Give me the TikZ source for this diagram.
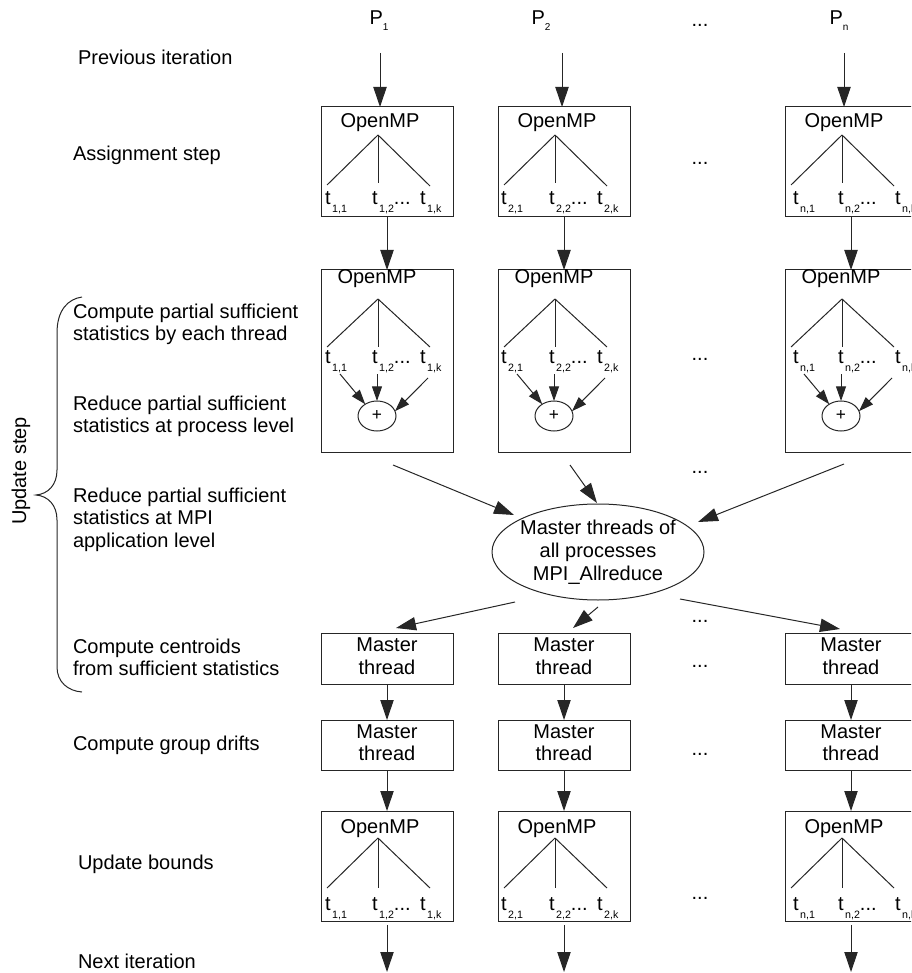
\documentclass[tikz,border=0pt]{standalone}
\usepackage{fontspec}
\setmainfont{Liberation Sans}
\usetikzlibrary{arrows.meta,shapes.geometric}
\newcommand{\lsub}[1]{\kern1.2pt\raisebox{-6pt}{\fontsize{8}{9}\selectfont #1}}
\newcommand{\psub}[1]{\raisebox{-4.5pt}{\fontsize{7.5}{9}\selectfont #1}}
\newcommand{\ml}[1]{\begin{tabular}[t]{@{}l@{}}#1\end{tabular}}
\newcommand{\mc}[1]{\begin{tabular}{@{}c@{}}#1\end{tabular}}
\tikzset{
  every node/.style={inner sep=0pt, outer sep=0pt, font=\fontsize{15}{17}\selectfont, text=black},
  ln/.style={line width=0.75pt, draw=black!85},
  arr/.style={ln, -{Triangle[length=15pt,width=10pt]}},
  sarr/.style={ln, -{Triangle[length=11pt,width=7.5pt]}},
  procbox/.style={draw=black!85, line width=0.75pt, minimum width=99pt},
  lbl/.style={anchor=base west},
  dotlbl/.style={anchor=base}
}
\begin{document}
\begin{tikzpicture}[x=0.75pt,y=-0.75pt]
\useasboundingbox (0,0) rectangle (911,973);
\clip (0,0) rectangle (911,973);

% left labels
\node[lbl] (lprev) at (78,65) {Previous iteration};
\node[lbl] (lassign) at (73,161) {Assignment step};
\node[lbl] (lcomp) at (73,318) {\ml{Compute partial sufficient\\statistics by each thread}};
\node[lbl] (lred) at (73,410) {\ml{Reduce partial sufficient\\statistics at process level}};
\node[lbl] (lmpi) at (73,502) {\ml{Reduce partial sufficient\\statistics at MPI\\application level}};
\node[lbl] (lcent) at (73,653) {\ml{Compute centroids\\from sufficient statistics}};
\node[lbl] (ldrift) at (73,750) {Compute group drifts};
\node[lbl] (lbounds) at (78,869) {Update bounds};
\node[lbl] (lnext) at (78,968) {Next iteration};

% brace and Update step
\draw[ln] (82,297) .. controls (68,299) and (57,310) .. (57,333) -- (57,470)
  .. controls (57,485) and (48,494) .. (36,495)
  .. controls (48,496) and (57,505) .. (57,520) -- (57,667)
  .. controls (57,682) and (68,691) .. (82,692);
\node[rotate=90] (upd) at (21,471) {Update step};

% dots
\node[dotlbl] (d0) at (700,27) {...};
\node[dotlbl] (d1) at (700,165) {...};
\node[dotlbl] (d2) at (700,360) {...};
\node[dotlbl] (d3) at (700,473) {...};
\node[dotlbl] (d4) at (700,622) {...};
\node[dotlbl] (d5) at (700,667) {...};
\node[dotlbl] (d6) at (700,755) {...};
\node[dotlbl] (d7) at (700,899) {...};

% MPI ellipse
\node[draw=black!85, line width=0.75pt, ellipse, minimum width=159pt, minimum height=72pt] (mpi) at (598,552) {};
\node (mpitext) at (598,553) {\mc{Master threads of\\all processes\\MPI\_Allreduce}};

\foreach \dx/\i/\px/\ax/\ta/\tb/\tk in {0/1/379/380/325/372/420, 177/2/541/562/501/549/597, 464/n/839/844/793/838/895} {
  % process label
  \node[anchor=base] (p\i) at (\px,25) {P\psub{\i}};
  % boxes
  \node[procbox, minimum height=82.5pt] (ra\i) at ({\dx+387},162) {};
  \node[procbox, minimum height=136.5pt] (rb\i) at ({\dx+387},361) {};
  \node[procbox, minimum height=38.25pt] (ma\i) at ({\dx+387},658.5) {\mc{Master\\thread}};
  \node[procbox, minimum height=37.5pt] (mb\i) at ({\dx+387},745) {\mc{Master\\thread}};
  \node[procbox, minimum height=82.5pt] (rc\i) at ({\dx+387},866) {};
  % top arrow
  \coordinate (pa\i) at (\ax,53);
  \draw[arr] (pa\i) -- (pa\i |- ra\i.north);
  % vertical arrows
  \draw[arr] (ra\i.south) -- (rb\i.north);
  \draw[arr] (ma\i.south) -- (mb\i.north);
  \draw[arr] (mb\i.south) -- (rc\i.north);
  \coordinate (ex\i) at ({\dx+387},972);
  \draw[arr] ([yshift=-3pt]rc\i.south) -- (ex\i);

  % row A: OpenMP tree
  \node[anchor=base] (oa\i) at ({\dx+380},128) {OpenMP};
  \coordinate (ba\i) at ({\dx+378},135);
  \draw[ln] (ba\i) -- ++(-51,50);
  \draw[ln] (ba\i) -- ++(0,48);
  \draw[ln] (ba\i) -- ++(52,51);
  \node[lbl] (ta1\i) at (\ta,205) {t\lsub{\i,1}};
  \node[lbl] (ta2\i) at (\tb,205) {t\lsub{\i,2}...};
  \node[lbl] (ta3\i) at (\tk,205) {t\lsub{\i,k}};

  % row B: OpenMP tree with reduction
  \node[anchor=base] (ob\i) at ({\dx+377},284) {OpenMP};
  \coordinate (bb\i) at ({\dx+378},299);
  \draw[ln] (bb\i) -- ++(-51,48);
  \draw[ln] (bb\i) -- ++(0,48);
  \draw[ln] (bb\i) -- ++(52,48);
  \node[lbl] (tb1\i) at (\ta,363) {t\lsub{\i,1}};
  \node[lbl] (tb2\i) at (\tb,363) {t\lsub{\i,2}...};
  \node[lbl] (tb3\i) at (\tk,363) {t\lsub{\i,k}};
  \node[draw=black!85, line width=0.75pt, ellipse, minimum width=28.5pt, minimum height=22.5pt] (plus\i) at ({\dx+377},416) {};
  \node[font=\fontsize{13}{15}\selectfont] (plustxt\i) at ({\dx+377},415) {+};
  \coordinate (s1\i) at ({\dx+340},374);
  \coordinate (s2\i) at ({\dx+377},374);
  \coordinate (s3\i) at ({\dx+428},378);
  \draw[sarr] (s1\i) -- (plus\i.135);
  \draw[sarr] (s2\i) -- (plus\i.north);
  \draw[sarr] (s3\i) -- (plus\i.15);

  % row C: OpenMP tree
  \node[anchor=base] (oc\i) at ({\dx+380},833) {OpenMP};
  \coordinate (bc\i) at ({\dx+378},838);
  \draw[ln] (bc\i) -- ++(-51,50);
  \draw[ln] (bc\i) -- ++(0,50);
  \draw[ln] (bc\i) -- ++(52,50);
  \node[lbl] (tc1\i) at (\ta,910) {t\lsub{\i,1}};
  \node[lbl] (tc2\i) at (\tb,910) {t\lsub{\i,2}...};
  \node[lbl] (tc3\i) at (\tk,910) {t\lsub{\i,k}};
}

% arrows into the MPI ellipse
\coordinate (in1s) at (393,465); \coordinate (in1e) at (514,515);
\coordinate (in2s) at (570,465); \coordinate (in2e) at (597,503);
\coordinate (in3s) at (844,464); \coordinate (in3e) at (698,522);
\draw[arr] (in1s) -- (in1e);
\draw[arr] (in2s) -- (in2e);
\draw[arr] (in3s) -- (in3e);
% arrows out of the MPI ellipse
\coordinate (out1s) at (515,602); \coordinate (out1e) at (396,628);
\coordinate (out2s) at (598,607); \coordinate (out2e) at (573,628);
\coordinate (out3s) at (680,599); \coordinate (out3e) at (840,629);
\draw[arr] (out1s) -- (out1e);
\draw[arr] (out2s) -- (out2e);
\draw[arr] (out3s) -- (out3e);
\end{tikzpicture}
\end{document}
